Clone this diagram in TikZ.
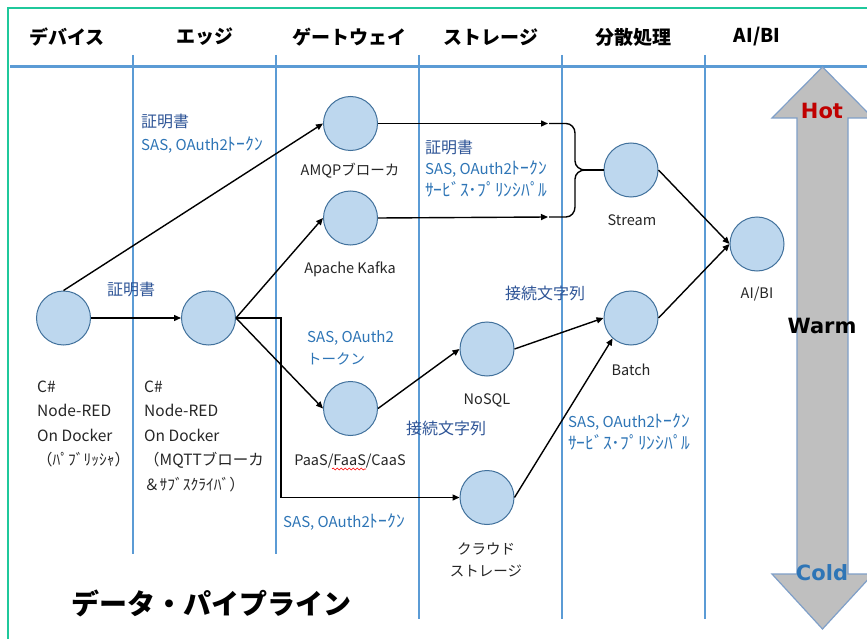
\documentclass[tikz,border=0pt]{standalone}
\usepackage{fontspec}
\setmainfont{Noto Sans CJK JP}
\newfontfamily\dvs{DejaVu Sans}
\usetikzlibrary{arrows.meta,decorations.pathmorphing}
\newcommand\hwkana[1]{{\fontsize{17.5}{22}\selectfont #1}}
\definecolor{cfill}{HTML}{BDD7EE}
\definecolor{cdraw}{HTML}{41719C}
\definecolor{lane}{HTML}{5B9BD5}
\definecolor{framegreen}{HTML}{1FC89B}
\definecolor{authblue}{HTML}{2E75B6}
\definecolor{certblue}{HTML}{2F5597}
\definecolor{hotred}{HTML}{C00000}
\definecolor{coldblue}{HTML}{2E75B6}
\definecolor{arrgray}{HTML}{BFBFBF}
\definecolor{arrdraw}{HTML}{7F9FC8}
\begin{document}
\begin{tikzpicture}[x=1pt,y=-1pt,
  dot/.style={circle,draw=cdraw,fill=cfill,line width=1pt,minimum size=54pt,inner sep=0pt},
  conn/.style={line width=1.4pt,-{Triangle[length=7pt,width=6pt]}},
  plain/.style={line width=1.4pt},
  lanev/.style={draw=lane,line width=2.5pt},
  head/.style={font=\fontsize{19}{19}\selectfont\bfseries,text=black,inner sep=0pt},
  lbl/.style={font=\fontsize{15.5}{24.5}\selectfont,text=black!85,inner sep=0pt,align=left},
  clbl/.style={font=\fontsize{14.5}{22}\selectfont,text=black!85,inner sep=0pt,align=center},
  cert/.style={font=\fontsize{16}{16}\selectfont,text=certblue,inner sep=0pt},
  auth/.style={font=\fontsize{15}{22}\selectfont,text=authblue,inner sep=0pt,align=left},
  temp/.style={font=\dvs\fontsize{21}{21}\selectfont\bfseries,inner sep=0pt}
]
\clip (0,0) rectangle (867,639);
\fill[white] (0,0) rectangle (867,639);
% frame
\draw[framegreen,line width=2pt] (8,639) -- (8,8) -- (867,8);
% lanes
\draw[lanev] (133,55) -- (133,554);
\draw[lanev] (276,55) -- (276,554);
\draw[lanev] (419,55) -- (419,619);
\draw[lanev] (562,55) -- (562,619);
\draw[lanev] (705,55) -- (705,619);
\draw[draw=lane,line width=3pt] (10,67) -- (867,67);
% headers
\node[head] (h1) at (67,37) {デバイス};
\node[head] (h2) at (205,37) {エッジ};
\node[head] (h3) at (349,37) {ゲートウェイ};
\node[head] (h4) at (491,37) {ストレージ};
\node[head] (h5) at (633,37) {分散処理};
\node[head] (h6) at (757,37) {AI/BI};
% hot/cold arrow
\draw[fill=arrgray,draw=arrdraw,line width=1.2pt] (822.5,67) -- (873,118) -- (848,118) -- (848,574) -- (873,574) -- (822.5,629) -- (772,574) -- (797,574) -- (797,118) -- (772,118) -- cycle;
\node[temp,text=hotred] (hot) at (822,111) {Hot};
\node[temp,text=black] (warm) at (822,326) {Warm};
\node[temp,text=coldblue] (cold) at (822,573) {Cold};
% circles
\node[dot] (dev) at (63.5,318) {};
\node[dot] (edge) at (208.5,318) {};
\node[dot] (amqp) at (350.5,123.5) {};
\node[dot] (kafka) at (350.5,218) {};
\node[dot] (paas) at (350.5,408.5) {};
\node[dot] (nosql) at (487,349) {};
\node[dot] (cloud) at (487,497.5) {};
\node[dot] (stream) at (631,170) {};
\node[dot] (batch) at (631,318) {};
\node[dot] (aibi) at (757,244) {};
% connector helpers
\coordinate (elb) at (281,318);
\coordinate (ba) at (548,123.5);
\coordinate (bb) at (548,217);
\coordinate (bt) at (585,170);
% connectors
\draw[conn] (dev.north) -- (amqp.west);
\draw[conn] (dev.east) -- (edge.west);
\draw[conn] (edge.east) -- (kafka.west);
\draw[conn] (edge.east) -- (paas.west);
\draw[conn] (edge.east) -- (elb) |- (cloud.west);
\draw[conn] (amqp.east) -- (ba);
\draw[conn] (kafka.east) -- (bb);
\draw[plain] (549,123.5) -- (566,123.5) to[out=0,in=90] (575,133) -- (575,161) to[out=-90,in=180] (bt);
\draw[plain] (549,217) -- (566,217) to[out=0,in=-90] (575,207) -- (575,179) to[out=90,in=180] (bt);
\draw[plain] (bt) -- (stream.west);
\draw[conn] (paas.east) -- (nosql.west);
\draw[conn] (nosql.east) -- (batch.west);
\draw[conn] (cloud.east) -- (batch.228);
\draw[conn] (stream.east) -- (aibi.west);
\draw[conn] (batch.east) -- (aibi.west);
% node labels
\node[lbl,anchor=north west] (devl) at (37,380.5) {C\#\\Node-RED\\On Docker\\（ﾊﾟﾌﾞﾘｯｼｬ）};
\node[lbl,anchor=north west] (edgel) at (144,380.5) {C\#\\Node-RED\\On Docker\\（MQTTブローカ\\＆ｻﾌﾞｽｸﾗｲﾊﾞ）};
\node[clbl] (amqpl) at (350,171) {AMQPブローカ};
\node[clbl] (kafkal) at (350,269) {Apache Kafka};
\node[clbl] (paasl) at (350,461) {PaaS/FaaS/CaaS};
\draw[red,line width=0.6pt,decorate,decoration={snake,amplitude=1pt,segment length=4pt}] (332,469) -- (366,469);
\node[clbl] (nosqll) at (487,400) {NoSQL};
\node[clbl] (cloudl) at (486,560) {クラウド\\ストレージ};
\node[clbl] (streaml) at (632,220) {Stream};
\node[clbl] (batchl) at (631,370) {Batch};
\node[clbl] (aibil) at (757,294) {AI/BI};
% auth labels
\node[cert,anchor=west] (c1) at (141,121) {証明書};
\node[auth,anchor=west] (a1) at (141,145) {SAS, OAuth2\hwkana{ﾄｰｸﾝ}};
\node[cert,anchor=west] (c2) at (107,289) {証明書};
\node[cert,anchor=west] (c3) at (425,147) {証明書};
\node[auth,anchor=north west] (a3) at (425,161) {SAS, OAuth2\hwkana{ﾄｰｸﾝ}\\\hwkana{ｻｰﾋﾞｽ･ﾌﾟﾘﾝｼﾊﾟﾙ}};
\node[auth,anchor=north west] (a4) at (307,330) {SAS, OAuth2\\{\fontsize{14.5}{14.5}\selectfont トークン}};
\node[cert,anchor=center] (k1) at (446,428) {接続文字列};
\node[cert,anchor=center] (k2) at (545,293) {接続文字列};
\node[auth,anchor=west] (a5) at (283,522) {SAS, OAuth2\hwkana{ﾄｰｸﾝ}};
\node[auth,anchor=north west] (a6) at (568,414) {SAS, OAuth2\hwkana{ﾄｰｸﾝ}\\\hwkana{ｻｰﾋﾞｽ･ﾌﾟﾘﾝｼﾊﾟﾙ}};
% title
\node[font=\fontsize{28}{28}\selectfont\bfseries,inner sep=0pt] (title) at (211,603) {データ・パイプライン};
\end{tikzpicture}
\end{document}
